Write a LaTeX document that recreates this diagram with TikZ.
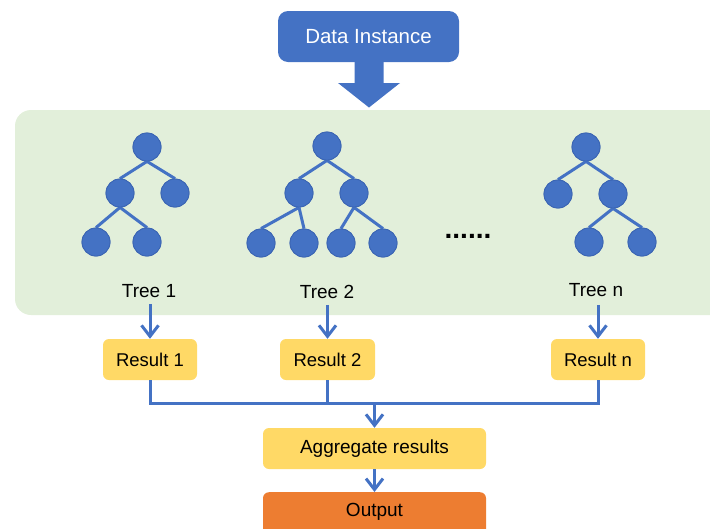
\documentclass[tikz,border=0pt]{standalone}
\usepackage{fontspec}
\setmainfont{Liberation Sans}
\usetikzlibrary{arrows.meta}
\definecolor{cblue}{HTML}{4472C4}
\definecolor{cblueb}{HTML}{3B65B3}
\definecolor{cyellow}{HTML}{FFD966}
\definecolor{corange}{HTML}{ED7D31}
\definecolor{cgreen}{HTML}{E2EFDA}
\tikzset{
  tn/.style={circle, fill=cblue, draw=cblueb, line width=0.8pt, minimum size=28pt, inner sep=0pt},
  te/.style={cblue, line width=3pt},
  lbl/.style={font=\fontsize{19}{21}\selectfont, inner sep=1pt},
  resbox/.style={rounded corners=6pt, fill=cyellow, draw=none, minimum height=41pt, font=\fontsize{18.5}{20}\selectfont},
  conn/.style={cblue, line width=3pt},
  arr/.style={conn, -{Straight Barb[length=11pt,width=17pt,line width=3pt]}},
}
\begin{document}
\begin{tikzpicture}[x=1pt,y=-1pt]
\useasboundingbox (0,0) rectangle (710,528);
% green panel
\fill[cgreen, rounded corners=16pt] (15,110) rectangle (740,315);
% data instance
\node[fill=cblue, rounded corners=10pt, minimum width=181pt, minimum height=51pt, text=white, font=\fontsize{20.5}{22}\selectfont] (din) at (368.5,36.5) {Data Instance};
\fill[cblue] (354.5,62) -- (383.5,62) -- (383.5,83) -- (400,83) -- (369,107.5) -- (338,83) -- (354.5,83) -- cycle;
% tree 1
\node[tn] (t1r) at (147,147) {};
\node[tn] (t1a) at (120,193) {};
\node[tn] (t1b) at (175,193) {};
\node[tn] (t1c) at (96,242) {};
\node[tn] (t1d) at (147,242) {};
% tree 2
\node[tn] (t2r) at (327,146) {};
\node[tn] (t2a) at (299,193) {};
\node[tn] (t2b) at (354,193) {};
\node[tn] (t2c) at (261,243) {};
\node[tn] (t2d) at (304,243) {};
\node[tn] (t2e) at (341,243) {};
\node[tn] (t2f) at (383,243) {};
% tree n
\node[tn] (tnr) at (586,147) {};
\node[tn] (tna) at (558,194) {};
\node[tn] (tnb) at (613,194) {};
\node[tn] (tnc) at (589,242) {};
\node[tn] (tnd) at (642,242) {};
% edges
\draw[te] (t1r.south) -- (t1a.north) (t1r.south) -- (t1b.north)
          (t1a.south) -- (t1c.north) (t1a.south) -- (t1d.north);
\draw[te] (t2r.south) -- (t2a.north) (t2r.south) -- (t2b.north)
          (t2a.south) -- (t2c.north) (t2a.south) -- (t2d.north)
          (t2b.south) -- (t2e.north) (t2b.south) -- (t2f.north);
\draw[te] (tnr.south) -- (tna.north) (tnr.south) -- (tnb.north)
          (tnb.south) -- (tnc.north) (tnb.south) -- (tnd.north);
% redraw circles on top of edges
\foreach \n in {t1r,t1a,t1b,t1c,t1d,t2r,t2a,t2b,t2c,t2d,t2e,t2f,tnr,tna,tnb,tnc,tnd}{
  \path[fill=cblue, draw=cblueb, line width=0.8pt] (\n.center) circle (14pt);
}
% dots
\node[font=\fontsize{28}{28}\bfseries\selectfont, inner sep=0pt] (dots) at (468,236) {......};
% labels
\node[lbl] (lab1) at (149,291) {Tree 1};
\node[lbl] (lab2) at (327,292) {Tree 2};
\node[lbl] (labn) at (596,290) {Tree n};
% results
\node[resbox, minimum width=94pt] (res1) at (150,359.5) {Result 1};
\node[resbox, minimum width=95pt] (res2) at (327.5,359.5) {Result 2};
\node[resbox, minimum width=94pt] (resn) at (598,359.5) {Result n};
\draw[arr] (res1.north |- lab1.south) ++(0,5) -- (res1.north);
\draw[arr] (res2.north |- lab2.south) ++(0,5) -- (res2.north);
\draw[arr] (resn.north |- labn.south) ++(0,7) -- (resn.north);
% aggregate
\node[resbox, minimum width=223pt, font=\fontsize{19}{21}\selectfont] (agg) at (374.5,448.5) {Aggregate results};
\coordinate (bus) at (598,403);
\draw[conn] (res1.south) |- (bus) -- (resn.south);
\draw[conn] (res2.south) -- (res2.south |- bus);
\draw[arr] (agg.north |- bus) -- (agg.north);
% output
\node[fill=corange, rounded corners=6pt, anchor=north, minimum width=223pt, inner ysep=11pt, text height=13pt, text depth=30pt, font=\fontsize{19}{21}\selectfont] (out) at (374.5,492) {Output};
\draw[arr] (agg.south) -- (out.north);
\end{tikzpicture}
\end{document}
